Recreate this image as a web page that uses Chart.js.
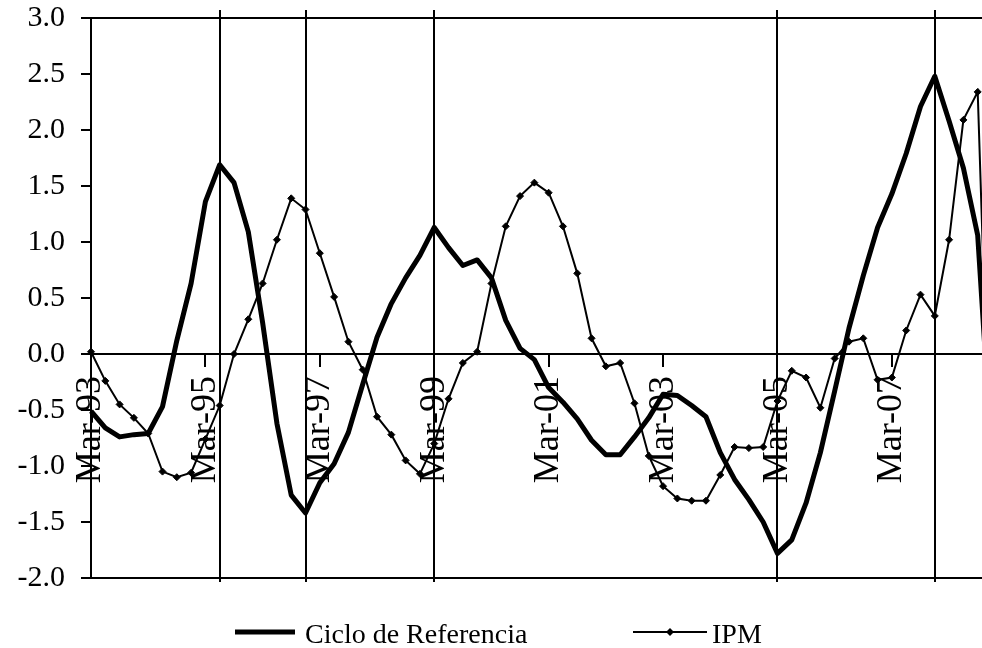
<!DOCTYPE html>
<html>
<head>
  <title>Ciclo de Referencia e IPM</title>
  <script src="https://cdn.jsdelivr.net/npm/chart.js"></script>
  <style>
    html, body {
      margin: 0;
      padding: 0;
      overflow: hidden;
      background: #fff;
    }
    /* the chart is a bit wider than the window, its right edge is cut off like the original */
    #wrap {
      position: relative;
      width: 1000px;
      height: 648px;
    }
  </style>
</head>
<body>
<div id="wrap"><canvas id="cycleChart"></canvas></div>

<script>
  // quarterly categories
  const quarters = [
    "Mar-93", "Jun-93", "Sep-93", "Dec-93", "Mar-94", "Jun-94", "Sep-94", "Dec-94",
    "Mar-95", "Jun-95", "Sep-95", "Dec-95", "Mar-96", "Jun-96", "Sep-96", "Dec-96",
    "Mar-97", "Jun-97", "Sep-97", "Dec-97", "Mar-98", "Jun-98", "Sep-98", "Dec-98",
    "Mar-99", "Jun-99", "Sep-99", "Dec-99", "Mar-00", "Jun-00", "Sep-00", "Dec-00",
    "Mar-01", "Jun-01", "Sep-01", "Dec-01", "Mar-02", "Jun-02", "Sep-02", "Dec-02",
    "Mar-03", "Jun-03", "Sep-03", "Dec-03", "Mar-04", "Jun-04", "Sep-04", "Dec-04",
    "Mar-05", "Jun-05", "Sep-05", "Dec-05", "Mar-06", "Jun-06", "Sep-06", "Dec-06",
    "Mar-07", "Jun-07", "Sep-07", "Dec-07", "Mar-08", "Jun-08", "Sep-08", "Dec-08"
  ];

  // labels shown on the axis
  const tickLabels = ["Mar-93", "Mar-95", "Mar-97", "Mar-99", "Mar-01", "Mar-03", "Mar-05", "Mar-07"];

  // turning points of the reference cycle (vertical lines)
  const turningPoints = ["Jun-95", "Dec-96", "Mar-99", "Mar-05", "Dec-07"];

  const cicloReferencia = [
    -0.51, -0.66, -0.74, -0.72, -0.71, -0.47, 0.12, 0.63,
    1.36, 1.69, 1.53, 1.09, 0.28, -0.62, -1.26, -1.42,
    -1.15, -0.98, -0.70, -0.27, 0.15, 0.45, 0.68, 0.88,
    1.13, 0.95, 0.79, 0.84, 0.68, 0.30, 0.05, -0.05,
    -0.30, -0.43, -0.58, -0.77, -0.90, -0.90, -0.74, -0.57,
    -0.36, -0.37, -0.46, -0.56, -0.88, -1.12, -1.30, -1.50,
    -1.78, -1.66, -1.33, -0.88, -0.33, 0.23, 0.70, 1.13,
    1.43, 1.79, 2.21, 2.48, 2.08, 1.66, 1.06, -0.95
  ];

  const ipm = [
    0.02, -0.24, -0.45, -0.57, -0.71, -1.05, -1.10, -1.06,
    -0.76, -0.46, 0.00, 0.31, 0.63, 1.02, 1.39, 1.29,
    0.90, 0.51, 0.11, -0.14, -0.56, -0.72, -0.95, -1.07,
    -0.80, -0.40, -0.08, 0.02, 0.63, 1.14, 1.41, 1.53,
    1.44, 1.14, 0.72, 0.14, -0.11, -0.08, -0.44, -0.91,
    -1.18, -1.29, -1.31, -1.31, -1.08, -0.83, -0.84, -0.83,
    -0.42, -0.15, -0.21, -0.48, -0.04, 0.11, 0.14, -0.23,
    -0.21, 0.21, 0.53, 0.34, 1.02, 2.09, 2.34, -1.60
  ];

  const yMin = -2.0;
  const yMax = 3.0;
  const yStep = 0.5;

  const serif = "'Liberation Serif', 'Times New Roman', serif";

  // top/bottom frame and the vertical turning-point lines
  const framePlugin = {
    id: "frame",
    beforeDatasetsDraw(chart) {
      const { ctx, chartArea: a, scales: { x } } = chart;
      ctx.save();
      ctx.strokeStyle = "#000";
      ctx.lineWidth = 2;
      ctx.beginPath();
      ctx.moveTo(a.left, a.top);
      ctx.lineTo(a.right, a.top);
      ctx.moveTo(a.left, a.bottom);
      ctx.lineTo(a.right, a.bottom);
      turningPoints.forEach(q => {
        const px = Math.round(x.getPixelForValue(quarters.indexOf(q)));
        ctx.moveTo(px, a.top - 8);
        ctx.lineTo(px, a.bottom + 4);
      });
      ctx.stroke();
      ctx.restore();
    }
  };

  // legend under the plot, excel style
  const legendPlugin = {
    id: "bottomLegend",
    afterDraw(chart) {
      const ctx = chart.ctx;
      const ds = chart.data.datasets;
      const y = 632;
      ctx.save();
      ctx.strokeStyle = "#000";
      ctx.fillStyle = "#000";

      ctx.lineWidth = 5;
      ctx.beginPath();
      ctx.moveTo(235, y);
      ctx.lineTo(295, y);
      ctx.stroke();

      ctx.lineWidth = 2;
      ctx.beginPath();
      ctx.moveTo(633, y);
      ctx.lineTo(707, y);
      ctx.stroke();
      ctx.beginPath();
      ctx.moveTo(670, y - 4);
      ctx.lineTo(674, y);
      ctx.lineTo(670, y + 4);
      ctx.lineTo(666, y);
      ctx.closePath();
      ctx.fill();

      ctx.font = "28px " + serif;
      ctx.textBaseline = "alphabetic";
      ctx.fillText(ds[0].label, 305, 643);
      ctx.fillText(ds[1].label, 712, 643);
      ctx.restore();
    }
  };

  new Chart(document.getElementById("cycleChart"), {
    type: "line",
    data: {
      labels: quarters,
      datasets: [
        {
          label: "Ciclo de Referencia",
          data: cicloReferencia,
          borderColor: "#000",
          borderWidth: 5,
          borderJoinStyle: "round",
          pointRadius: 0,
          tension: 0
        },
        {
          label: "IPM",
          data: ipm,
          borderColor: "#000",
          borderWidth: 2,
          pointStyle: "rectRot",
          pointRadius: 3.5,
          pointBackgroundColor: "#000",
          pointBorderColor: "#000",
          pointBorderWidth: 1,
          tension: 0
        }
      ]
    },
    options: {
      responsive: true,
      maintainAspectRatio: false,
      animation: false,
      layout: { padding: { left: 0, top: 18, right: 8, bottom: 70 } },
      plugins: {
        legend: { display: false },
        tooltip: { enabled: false }
      },
      scales: {
        x: {
          type: "category",
          position: { y: 0 },
          grid: {
            drawOnChartArea: false,
            tickLength: 12,
            lineWidth: 2,
            color: c => tickLabels.includes(quarters[c.index]) ? "#000" : "rgba(0,0,0,0)"
          },
          border: { color: "#000", width: 2 },
          ticks: {
            autoSkip: false,
            minRotation: 90,
            maxRotation: 90,
            padding: 10,
            color: "#000",
            font: { family: serif, size: 36 },
            callback: (v, i) => tickLabels.includes(quarters[i]) ? quarters[i] : ""
          },
          afterFit: s => { s.paddingLeft = 0; s.paddingRight = 0; }
        },
        y: {
          min: yMin,
          max: yMax,
          grid: { drawOnChartArea: false, tickLength: 10, lineWidth: 2, color: "#000" },
          border: { color: "#000", width: 2 },
          ticks: {
            stepSize: yStep,
            padding: 16,
            color: "#000",
            font: { family: serif, size: 30 },
            callback: v => v.toFixed(1)
          },
          afterFit: s => { s.width = 91; s.paddingTop = 0; s.paddingBottom = 0; }
        }
      }
    },
    plugins: [framePlugin, legendPlugin]
  });
</script>

</body>
</html>
